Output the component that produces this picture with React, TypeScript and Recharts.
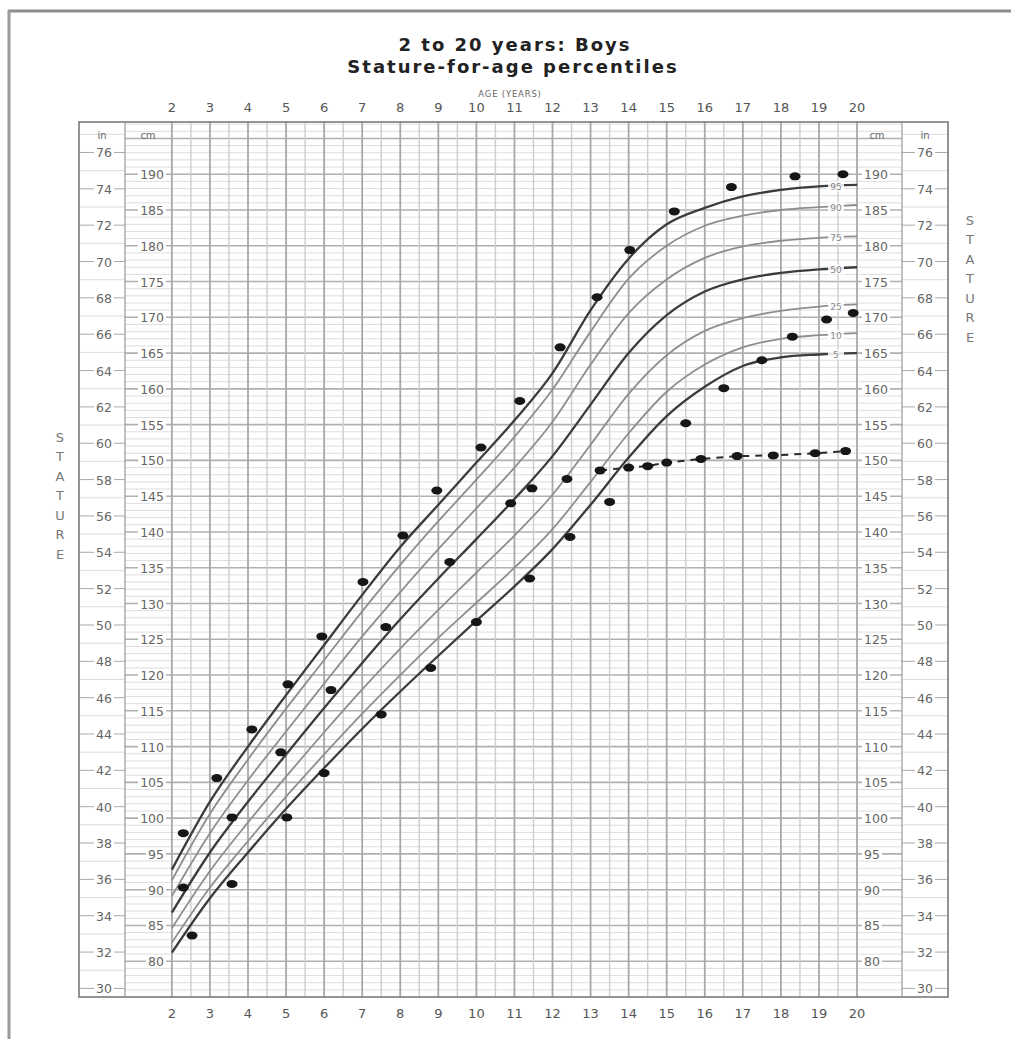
import React from 'react';
import { ComposedChart, Line, XAxis, YAxis, ReferenceLine } from 'recharts';

// percentile curves, stature in cm
const AGES = [2, 3, 4, 5, 6, 7, 8, 9, 10, 11, 12, 13, 14, 15, 16, 17, 18, 19, 20];
const P5 = [81.2, 88.8, 95.2, 101.3, 107.0, 112.5, 117.7, 122.7, 127.6, 132.4, 137.6, 143.8, 150.4, 156.2, 160.3, 163.2, 164.4, 164.8, 165.0];
const P10 = [82.6, 90.3, 96.8, 103.0, 108.9, 114.6, 120.0, 125.2, 130.1, 135.0, 140.4, 147.0, 153.8, 159.6, 163.4, 165.8, 167.0, 167.5, 167.8];
const P25 = [84.6, 92.6, 99.4, 105.8, 112.0, 118.0, 123.7, 129.1, 134.3, 139.5, 145.2, 152.2, 159.3, 164.7, 168.1, 169.9, 170.9, 171.5, 171.8];
const P50 = [86.8, 95.2, 102.3, 108.9, 115.4, 121.7, 127.8, 133.5, 139.0, 144.6, 150.6, 157.8, 165.0, 170.3, 173.6, 175.3, 176.2, 176.7, 177.0];
const P75 = [89.1, 97.9, 105.3, 112.1, 118.8, 125.4, 131.6, 137.6, 143.3, 149.0, 155.4, 163.4, 170.6, 175.3, 178.3, 179.9, 180.7, 181.1, 181.3];
const P90 = [91.3, 100.6, 108.2, 115.3, 122.1, 128.9, 135.4, 141.5, 147.3, 153.3, 159.9, 168.0, 175.4, 180.0, 182.8, 184.2, 185.0, 185.4, 185.7];
const P95 = [92.8, 102.3, 110.0, 117.2, 124.2, 131.2, 137.9, 143.8, 149.7, 155.6, 162.2, 171.0, 178.2, 183.0, 185.3, 186.9, 187.8, 188.3, 188.5];

// plotted measurements (age, cm)
const SET_A: [number, number][] = [
  [2.3, 97.9], [3.18, 105.6], [4.1, 112.4], [5.05, 118.7], [5.94, 125.4], [7.02, 133.0],
  [8.07, 139.5], [8.96, 145.8], [10.12, 151.8], [11.14, 158.3], [12.2, 165.8], [13.17, 172.8],
  [14.03, 179.4], [15.2, 184.8], [16.7, 188.2], [18.37, 189.7], [19.63, 190.0],
];
const SET_B: [number, number][] = [
  [2.3, 90.3], [3.58, 100.1], [4.86, 109.2], [6.18, 117.9], [7.62, 126.7], [9.3, 135.8],
  [10.9, 144.0], [11.46, 146.1], [12.38, 147.4],
];
const SET_B_LATE: [number, number][] = [
  [13.25, 148.6], [14.0, 149.0], [14.5, 149.2], [15.0, 149.7], [15.9, 150.2], [16.85, 150.6],
  [17.8, 150.7], [18.9, 151.0], [19.7, 151.3],
];
const SET_C: [number, number][] = [
  [2.53, 83.6], [3.58, 90.8], [5.02, 100.1], [6.0, 106.3], [7.5, 114.5], [8.8, 121.0],
  [10.0, 127.4], [11.4, 133.5], [12.46, 139.3], [13.5, 144.2], [15.5, 155.2], [16.5, 160.1],
  [17.5, 164.0], [18.3, 167.3], [19.2, 169.7], [19.9, 170.6],
];

const AGE_TICKS = [2, 3, 4, 5, 6, 7, 8, 9, 10, 11, 12, 13, 14, 15, 16, 17, 18, 19, 20];
const CM_TICKS = [80, 85, 90, 95, 100, 105, 110, 115, 120, 125, 130, 135, 140, 145, 150, 155, 160, 165, 170, 175, 180, 185, 190];
const IN_TICKS = [30, 32, 34, 36, 38, 40, 42, 44, 46, 48, 50, 52, 54, 56, 58, 60, 62, 64, 66, 68, 70, 72, 74, 76];

const X_DOMAIN = [-0.44, 22.39];
const CM_DOMAIN = [75, 197.3];
const IN_DOMAIN = [75 / 2.54, 197.3 / 2.54];

const rows = AGES.map((age, i) => ({
  age, p5: P5[i], p10: P10[i], p25: P25[i], p50: P50[i], p75: P75[i], p90: P90[i], p95: P95[i],
}));
const toPts = (arr: [number, number][]) => arr.map(([age, cm]) => ({ age, cm }));

const curves = [
  { key: 'p95', name: '95', dark: true },
  { key: 'p90', name: '90', dark: false },
  { key: 'p75', name: '75', dark: false },
  { key: 'p50', name: '50', dark: true },
  { key: 'p25', name: '25', dark: false },
  { key: 'p10', name: '10', dark: false },
  { key: 'p5', name: '5', dark: true },
];

// grid positions
const halfYears = Array.from({ length: 37 }, (_, i) => 2 + i * 0.5);
const cmLines = Array.from({ length: 122 }, (_, i) => 76 + i);
const inLines = Array.from({ length: 48 }, (_, i) => 30 + i);

const FONT = 'DejaVu Sans, Arial, sans-serif';

const blob = (props: any) => {
  const { cx, cy, index } = props;
  if (cx == null || cy == null) return <g key={index} />;
  return <ellipse key={index} cx={cx} cy={cy} rx={5.5} ry={4} fill="#161616" />;
};

const pctLabel = (name: string) => (props: any) => {
  const { x, y, index } = props;
  if (index !== 17) return <g key={index} />;
  const lx = x + 17;
  return (
    <g key={index}>
      <rect x={lx - 8} y={y - 5} width={16} height={10} fill="#fff" opacity={0.85} />
      <text x={lx} y={y + 0.5} textAnchor="middle" dominantBaseline="central" fontSize={9} fontFamily={FONT} fill="#888">
        {name}
      </text>
    </g>
  );
};

const ageTick = (ty: number) => (props: any) => {
  const { x, payload } = props;
  return (
    <text x={x} y={ty} textAnchor="middle" dominantBaseline="central" fontSize={13} fontFamily={FONT} fill="#555">
      {payload.value}
    </text>
  );
};

const sideTick = (tx: number, anchor: 'start' | 'middle' | 'end') => (props: any) => {
  const { y, payload } = props;
  const label = String(payload.value);
  const w = label.length * 8 + 4;
  const rx = anchor === 'end' ? tx - w + 2 : anchor === 'middle' ? tx - w / 2 : tx - 2;
  return (
    <g>
      <rect x={rx} y={y - 6} width={w} height={12} fill="#fff" />
      <text x={tx} y={y + 0.5} textAnchor={anchor} dominantBaseline="central" fontSize={12.5} fontFamily={FONT} fill="#666">
        {label}
      </text>
    </g>
  );
};

const StatureWord = ({ x, y0 }: { x: number; y0: number }) => (
  <g>
    {'STATURE'.split('').map((ch, i) => (
      <text key={i} x={x} y={y0 + i * 19.5} textAnchor="middle" dominantBaseline="central" fontSize={13} fontFamily={FONT} fill="#777">
        {ch}
      </text>
    ))}
  </g>
);

export default function App() {
  return (
    <div style={{ position: 'absolute', left: 0, top: 0, width: 1011, height: 1039, background: '#fff' }}>
      <ComposedChart
        width={1011}
        height={1039}
        data={rows}
        margin={{ top: 122, right: 63, bottom: 42, left: 79 }}
      >
        <XAxis xAxisId="b" type="number" dataKey="age" domain={X_DOMAIN} allowDataOverflow ticks={AGE_TICKS}
          mirror axisLine={false} tickLine={false} tick={ageTick(1013)} interval={0} />
        <XAxis xAxisId="t" orientation="top" type="number" dataKey="age" domain={X_DOMAIN} allowDataOverflow ticks={AGE_TICKS}
          mirror axisLine={false} tickLine={false} tick={ageTick(107)} interval={0} />
        <YAxis yAxisId="cm" type="number" domain={CM_DOMAIN} allowDataOverflow ticks={CM_TICKS}
          mirror axisLine={false} tickLine={false} tick={sideTick(164, 'end')} interval={0} />
        <YAxis yAxisId="cmR" orientation="right" type="number" domain={CM_DOMAIN} allowDataOverflow ticks={CM_TICKS}
          mirror axisLine={false} tickLine={false} tick={sideTick(864, 'start')} interval={0} />
        <YAxis yAxisId="inL" type="number" domain={IN_DOMAIN} allowDataOverflow ticks={IN_TICKS}
          mirror axisLine={false} tickLine={false} tick={sideTick(104, 'middle')} interval={0} />
        <YAxis yAxisId="inR" orientation="right" type="number" domain={IN_DOMAIN} allowDataOverflow ticks={IN_TICKS}
          mirror axisLine={false} tickLine={false} tick={sideTick(925, 'middle')} interval={0} />

        {cmLines.map((v) => (
          <ReferenceLine key={'h' + v} xAxisId="b" yAxisId="cm"
            segment={[{ x: 0.765, y: v }, { x: 21.18, y: v }]}
            stroke={v % 5 === 0 ? '#b0b0b0' : '#dedede'} strokeWidth={v % 5 === 0 ? 1.6 : 1} />
        ))}
        {inLines.map((v) => (
          <ReferenceLine key={'il' + v} xAxisId="b" yAxisId="inL"
            segment={[{ x: -0.44, y: v }, { x: 0.765, y: v }]}
            stroke={v % 2 === 0 ? '#aaa' : '#ddd'} strokeWidth={1} />
        ))}
        {inLines.map((v) => (
          <ReferenceLine key={'ir' + v} xAxisId="b" yAxisId="inR"
            segment={[{ x: 21.18, y: v }, { x: 22.39, y: v }]}
            stroke={v % 2 === 0 ? '#aaa' : '#ddd'} strokeWidth={1} />
        ))}
        {halfYears.map((v) => (
          <ReferenceLine key={'v' + v} xAxisId="b" yAxisId="cm" x={v}
            stroke={Number.isInteger(v) ? '#a8a8a8' : '#cdcdcd'} strokeWidth={Number.isInteger(v) ? 1.8 : 1.4} />
        ))}

        {curves.map((c) => (
          <Line key={c.key} xAxisId="b" yAxisId="cm" type="monotone" dataKey={c.key}
            stroke={c.dark ? '#3c3c3c' : '#8e8e8e'} strokeWidth={c.dark ? 2.3 : 1.8}
            dot={false} activeDot={false} isAnimationActive={false} label={pctLabel(c.name)} />
        ))}

        <Line xAxisId="b" yAxisId="cm" data={toPts(SET_B_LATE)} dataKey="cm" type="linear"
          stroke="#2a2a2a" strokeWidth={2} strokeDasharray="7 6" dot={blob} activeDot={false} isAnimationActive={false} />
        <Line xAxisId="b" yAxisId="cm" data={toPts(SET_A)} dataKey="cm" stroke="none"
          dot={blob} activeDot={false} isAnimationActive={false} />
        <Line xAxisId="b" yAxisId="cm" data={toPts(SET_B)} dataKey="cm" stroke="none"
          dot={blob} activeDot={false} isAnimationActive={false} />
        <Line xAxisId="b" yAxisId="cm" data={toPts(SET_C)} dataKey="cm" stroke="none"
          dot={blob} activeDot={false} isAnimationActive={false} />
      </ComposedChart>

      <svg width={1011} height={1039} style={{ position: 'absolute', left: 0, top: 0, pointerEvents: 'none' }}>
        <line x1={8} y1={11} x2={1011} y2={11} stroke="#8c8c8c" strokeWidth={3} />
        <line x1={9} y1={10} x2={9} y2={1039} stroke="#9a9a9a" strokeWidth={3} />
        <rect x={79} y={122} width={869} height={875} fill="none" stroke="#7a7a7a" strokeWidth={1.6} />
        <line x1={125} y1={122} x2={125} y2={997} stroke="#999" strokeWidth={1.2} />
        <line x1={902} y1={122} x2={902} y2={997} stroke="#999" strokeWidth={1.2} />

        <text x={515} y={44} textAnchor="middle" dominantBaseline="central" fontSize={18} fontWeight="bold"
          fontFamily={FONT} letterSpacing={2} fill="#222">2 to 20 years: Boys</text>
        <text x={513} y={66} textAnchor="middle" dominantBaseline="central" fontSize={18} fontWeight="bold"
          fontFamily={FONT} letterSpacing={2} fill="#222">Stature-for-age percentiles</text>
        <text x={510} y={94} textAnchor="middle" dominantBaseline="central" fontSize={8.5}
          fontFamily={FONT} letterSpacing={0.8} fill="#666">AGE (YEARS)</text>

        <text x={102} y={135} textAnchor="middle" dominantBaseline="central" fontSize={10} fontFamily={FONT} fill="#666">in</text>
        <text x={148} y={135} textAnchor="middle" dominantBaseline="central" fontSize={10} fontFamily={FONT} fill="#666">cm</text>
        <text x={877} y={135} textAnchor="middle" dominantBaseline="central" fontSize={10} fontFamily={FONT} fill="#666">cm</text>
        <text x={925} y={135} textAnchor="middle" dominantBaseline="central" fontSize={10} fontFamily={FONT} fill="#666">in</text>

        <StatureWord x={60} y0={437} />
        <StatureWord x={970} y0={220} />
      </svg>
    </div>
  );
}
